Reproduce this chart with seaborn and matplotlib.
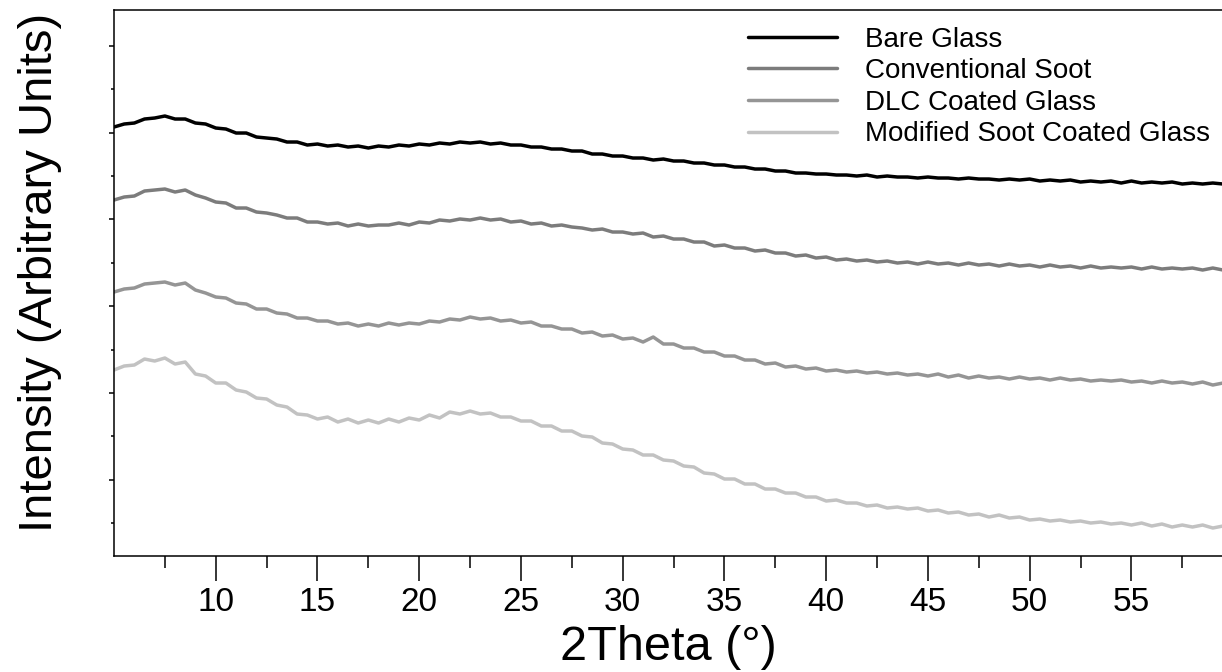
import numpy as np
import pandas as pd
import matplotlib
matplotlib.use("Agg")
import matplotlib.pyplot as plt
import seaborn as sns
from matplotlib.ticker import FixedLocator

# -----------------------------
# Data (0.5 deg steps)
# -----------------------------
two_theta = np.arange(5.0, 60.0, 0.5)

bare_glass = [
    429, 432, 433, 437, 438, 440, 437, 437, 433, 432, 428, 427, 423, 423, 419, 418,
    417, 414, 414, 411, 412, 410, 411, 409, 410, 408, 410, 409, 411, 410, 412, 411,
    413, 412, 414, 413, 414, 412, 413, 411, 411, 409, 409, 407, 407, 405, 405, 402,
    402, 400, 400, 398, 398, 396, 397, 395, 395, 393, 393, 391, 391, 389, 389, 387,
    387, 385, 385, 383, 383, 382, 382, 381, 381, 380, 381, 379, 380, 379, 379, 378,
    379, 378, 378, 377, 378, 377, 377, 376, 377, 376, 377, 375, 376, 375, 376, 374,
    375, 374, 375, 373, 375, 373, 374, 373, 374, 372, 373, 372, 373, 372,
]

conventional_soot = [
    356, 359, 360, 365, 366, 367, 364, 366, 361, 358, 354, 353, 348, 348, 344, 343,
    341, 338, 338, 334, 334, 332, 333, 330, 332, 330, 331, 331, 333, 331, 334, 333,
    336, 335, 337, 336, 338, 336, 337, 334, 335, 332, 333, 330, 331, 329, 328, 326,
    327, 324, 324, 322, 323, 319, 320, 317, 317, 314, 314, 310, 311, 308, 308, 305,
    306, 303, 303, 300, 301, 298, 299, 296, 297, 295, 296, 294, 295, 293, 294, 292,
    294, 292, 293, 291, 293, 291, 292, 290, 292, 290, 291, 289, 291, 289, 290, 288,
    290, 288, 289, 288, 289, 287, 289, 287, 288, 287, 288, 286, 288, 286,
]

dlc_coated = [
    264, 267, 268, 272, 273, 274, 271, 273, 266, 263, 259, 258, 253, 252, 247, 247,
    243, 242, 238, 238, 235, 235, 232, 233, 230, 232, 230, 233, 231, 233, 232, 235,
    234, 237, 236, 239, 237, 238, 235, 236, 233, 234, 230, 230, 227, 227, 223, 224,
    220, 221, 217, 218, 214, 219, 212, 212, 208, 208, 204, 204, 200, 200, 196, 196,
    192, 193, 189, 190, 187, 188, 185, 186, 184, 185, 183, 184, 182, 183, 181, 182,
    180, 182, 179, 181, 178, 180, 178, 179, 177, 179, 177, 178, 176, 178, 176, 177,
    175, 176, 175, 176, 174, 175, 173, 175, 173, 174, 172, 174, 171, 173,
]

modified_soot = [
    186, 190, 191, 197, 195, 198, 192, 194, 182, 180, 173, 173, 166, 164, 158, 157,
    151, 149, 142, 141, 137, 139, 134, 137, 133, 136, 133, 137, 134, 138, 136, 141,
    138, 144, 142, 145, 142, 143, 139, 139, 135, 135, 130, 130, 125, 125, 120, 119,
    113, 112, 107, 106, 101, 101, 96, 95, 90, 89, 83, 82, 77, 77, 72, 72,
    67, 67, 63, 63, 59, 59, 55, 56, 53, 53, 50, 51, 48, 49, 47, 48,
    45, 46, 43, 44, 41, 42, 39, 41, 38, 39, 36, 37, 35, 36, 34, 35,
    33, 34, 32, 33, 31, 33, 30, 32, 29, 31, 29, 31, 28, 30,
]

samples = ["Bare Glass", "Conventional Soot", "DLC Coated Glass", "Modified Soot Coated Glass"]
series = [bare_glass, conventional_soot, dlc_coated, modified_soot]
colors = ["#000000", "#7c7c7c", "#959595", "#c2c2c2"]

df = pd.concat(
    [pd.DataFrame({"two_theta": two_theta, "intensity": vals, "sample": name})
     for name, vals in zip(samples, series)],
    ignore_index=True,
)

# -----------------------------
# Graph Style
# -----------------------------
sns.set_style("ticks")
plt.rcParams["font.family"] = ["Liberation Sans", "DejaVu Sans"]
plt.rcParams["text.color"] = "black"
plt.rcParams["axes.labelcolor"] = "black"
plt.rcParams["xtick.color"] = "black"
plt.rcParams["ytick.color"] = "black"

fig = plt.figure(figsize=(12.22, 6.72), dpi=100)
ax = fig.add_axes([0.0933, 0.1726, 0.9075, 0.8125])

sns.lineplot(
    data=df, x="two_theta", y="intensity", hue="sample",
    hue_order=samples, palette=dict(zip(samples, colors)),
    linewidth=2.5, ax=ax,
)

ax.set_xlim(5, 59.5)
ax.set_ylim(0, 546)

ax.set_xticks([10, 15, 20, 25, 30, 35, 40, 45, 50, 55])
ax.xaxis.set_minor_locator(FixedLocator([7.5, 12.5, 17.5, 22.5, 27.5, 32.5,
                                         37.5, 42.5, 47.5, 52.5, 57.5]))
ax.set_yticks(np.arange(76.2, 546, 86.8))
ax.set_yticks(np.arange(32.8, 546, 86.8), minor=True)
ax.set_yticklabels([])

ax.tick_params(axis="x", which="major", direction="out", length=18, width=1.1,
               labelsize=24, pad=4)
ax.tick_params(axis="x", which="minor", direction="out", length=8.6, width=1.1)
ax.tick_params(axis="y", which="major", direction="out", length=3.6, width=1.1)
ax.tick_params(axis="y", which="minor", direction="out", length=2.2, width=1.1)

for side in ["top", "bottom", "left", "right"]:
    ax.spines[side].set_linewidth(1.1)
    ax.spines[side].set_color("black")

ax.set_xlabel("2Theta (°)", fontsize=35, labelpad=5)
ax.set_ylabel("Intensity (Arbitrary Units)", fontsize=34)
ax.yaxis.set_label_coords(-0.047, 0.52)

ax.legend(
    loc="upper right", bbox_to_anchor=(0.998, 0.99), frameon=False,
    fontsize=20, handlelength=3.2, handletextpad=1.0, labelspacing=0.2,
    borderaxespad=0,
)

plt.savefig("out.png", dpi=100)
